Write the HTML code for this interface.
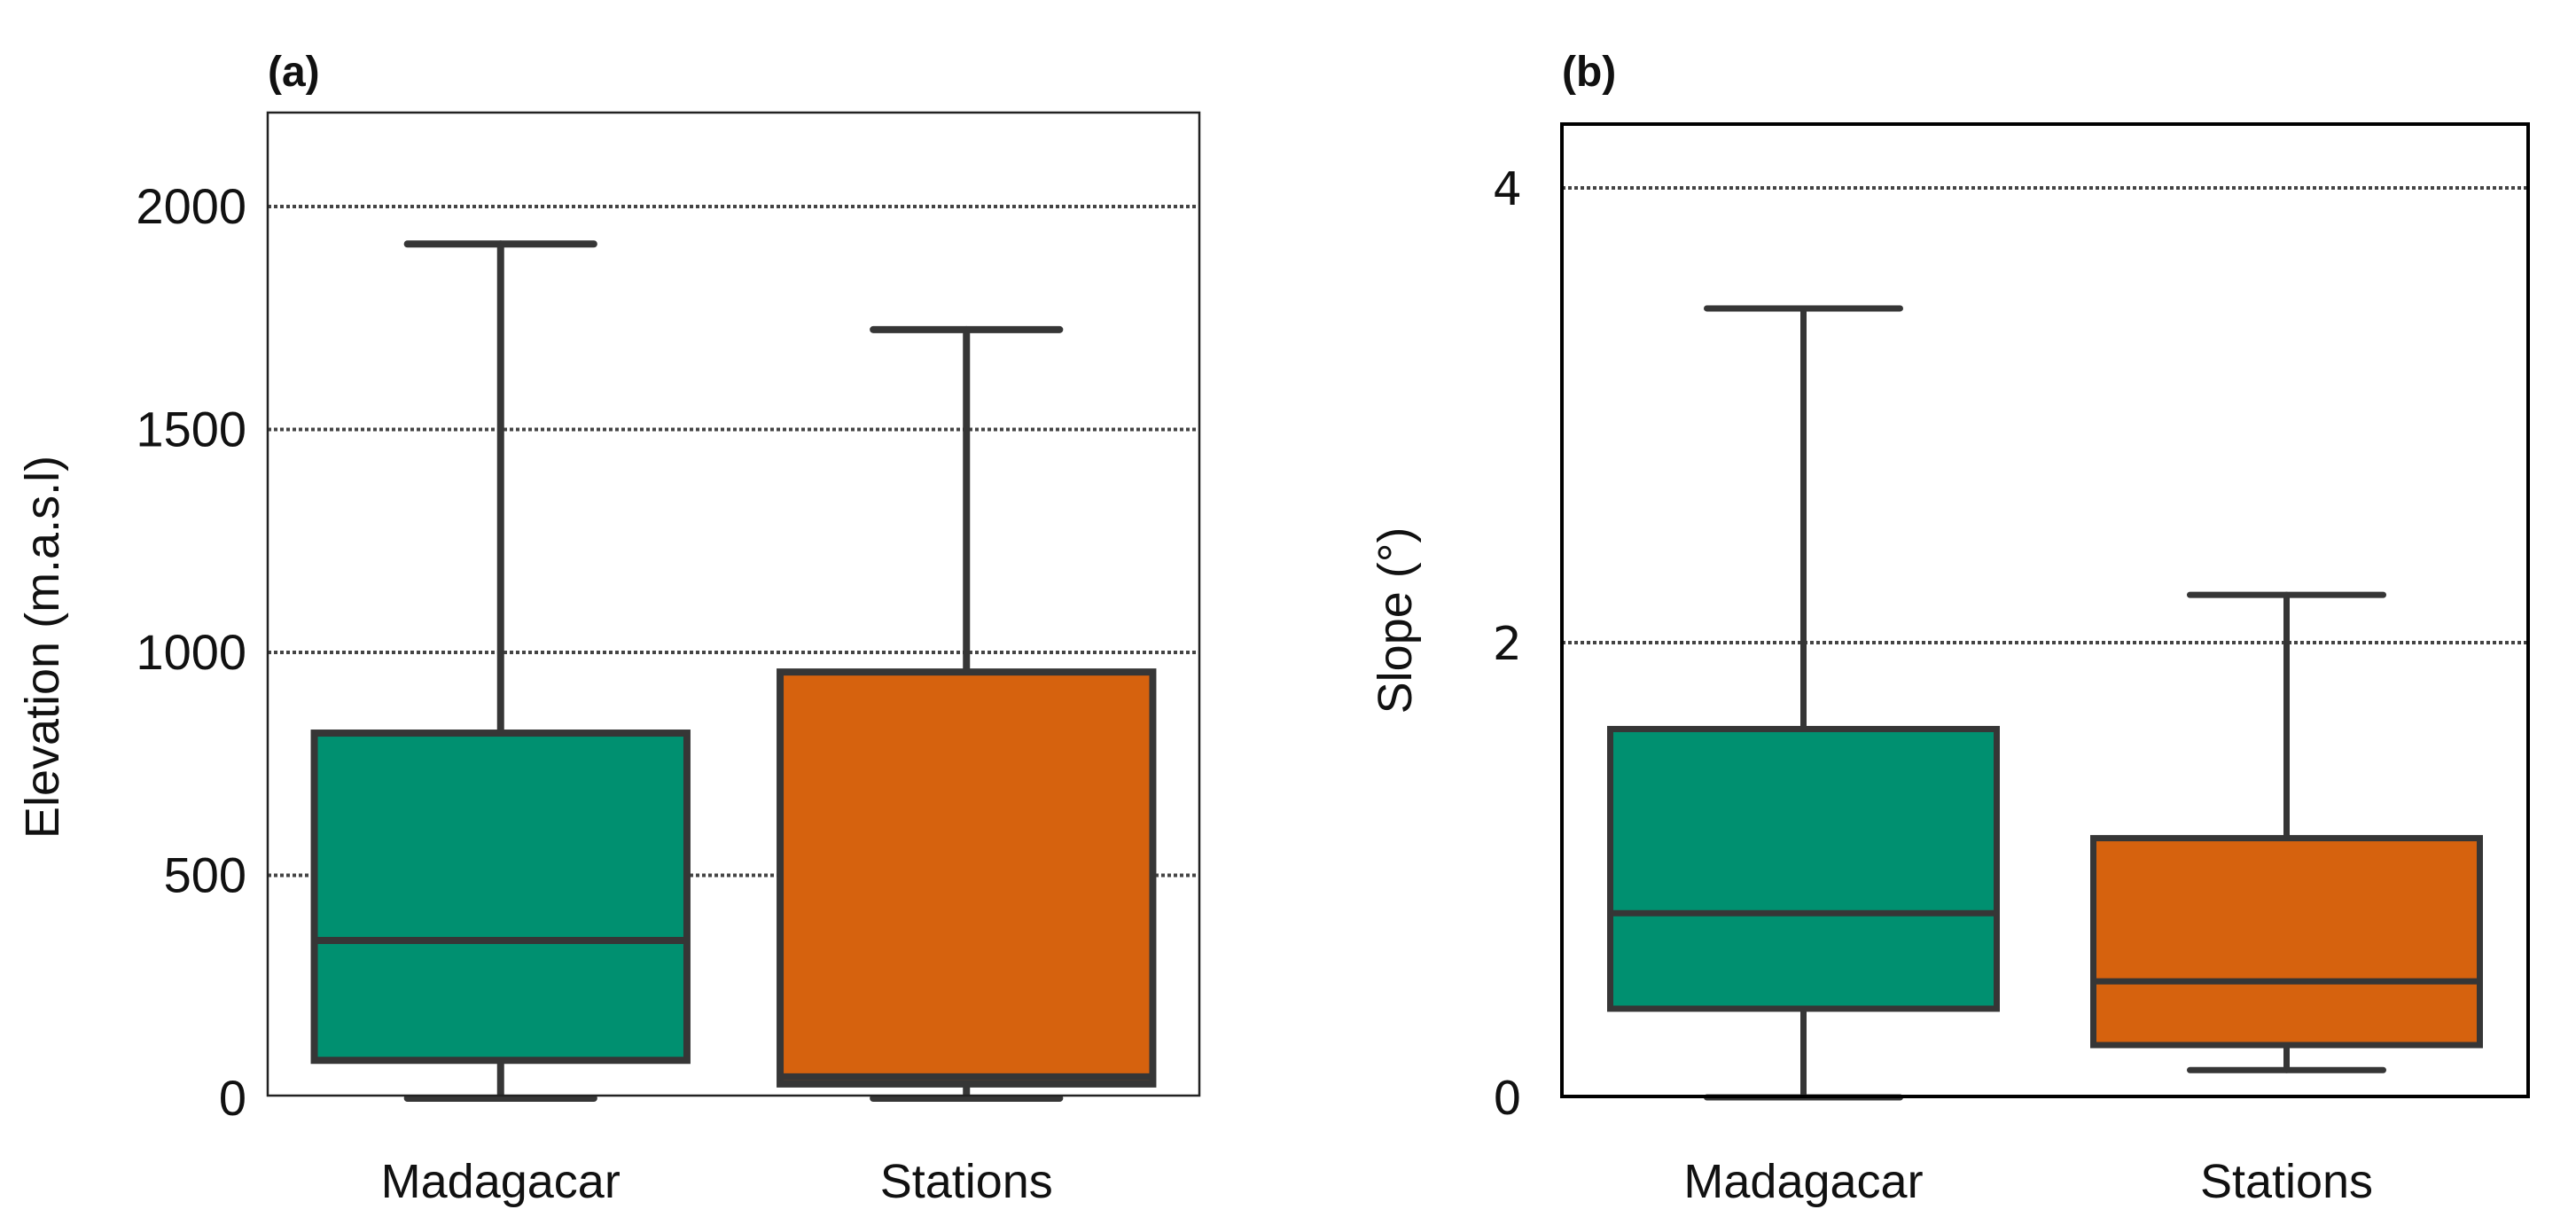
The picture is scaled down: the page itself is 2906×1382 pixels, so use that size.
<!DOCTYPE html>
<html><head><meta charset="utf-8">
<style>
html,body{margin:0;padding:0;background:#fff;}
svg{display:block;font-family:"Liberation Sans",Arial,sans-serif;}
</style></head>
<body>
<svg id="chart" width="2906" height="1382" viewBox="0 0 2906 1382" xmlns="http://www.w3.org/2000/svg">
<rect x="0" y="0" width="2906" height="1382" fill="#fff"/>
</svg>
<script>
const categories = ["Madagacar", "Stations"];
const colors = ["#009070", "#d6620e"];
// Elevation stats: [lower whisker, Q1, median, Q3, upper whisker]
const elevLow = [0, 0];
const elevQ1 = [85, 32];
const elevMed = [354, 48];
const elevQ3 = [819, 956];
const elevHigh = [1916, 1724];
const elevTicks = [0, 500, 1000, 1500, 2000];
// Slope stats
const slopeLow = [0, 0.12];
const slopeQ1 = [0.39, 0.23];
const slopeMed = [0.81, 0.51];
const slopeQ3 = [1.62, 1.14];
const slopeHigh = [3.47, 2.21];
const slopeTicks = [0, 2, 4];

const NS = "http://www.w3.org/2000/svg";
const svg = document.getElementById("chart");
function mk(tag, attrs, parent) {
  const e = document.createElementNS(NS, tag);
  for (const k in attrs) e.setAttribute(k, attrs[k]);
  (parent || svg).appendChild(e);
  return e;
}

function panel(cfg) {
  const g = mk("g", {});
  
  
  const yScale = v => cfg.y0 - (v - cfg.vmin) * cfg.pxPerUnit;
  const band = (cfg.right - cfg.left) / cfg.cats.length;
  const xScale = i => cfg.left + band * (i + 0.5);

  cfg.ticks.forEach(t => {
    if (t === 0) return;
    const l = mk("line", {x1: cfg.left, x2: cfg.right, y1: yScale(t), y2: yScale(t), stroke: "#444", "stroke-width": 4, "stroke-dasharray": "4 3"}, g);
    
    
  });
  cfg.ticks.forEach(t => {
    const tx = mk("text", {x: cfg.tickX, y: yScale(t) + 19, "text-anchor": "end", "font-size": cfg.tickFont, fill: "#111", "font-family": cfg.tickFamily}, g);
    tx.textContent = String(t);
    
    
  });

  const bw = band * 0.8, cw = bw / 2;
  cfg.cats.forEach((c, i) => {
    const cx = xScale(i);
    const bg = mk("g", {}, g);
    
    
    const st = {stroke: "#363636", "stroke-width": cfg.boxStroke, "stroke-linecap": "round"};
    mk("line", Object.assign({x1: cx, x2: cx, y1: yScale(cfg.high[i]), y2: yScale(cfg.q3[i])}, st), bg);
    mk("line", Object.assign({x1: cx, x2: cx, y1: yScale(cfg.q1[i]), y2: yScale(cfg.low[i])}, st), bg);
    mk("line", Object.assign({x1: cx - cw / 2, x2: cx + cw / 2, y1: yScale(cfg.high[i]), y2: yScale(cfg.high[i])}, st), bg);
    mk("line", Object.assign({x1: cx - cw / 2, x2: cx + cw / 2, y1: yScale(cfg.low[i]), y2: yScale(cfg.low[i])}, st), bg);
    mk("rect", {x: cx - bw / 2, y: yScale(cfg.q3[i]), width: bw, height: yScale(cfg.q1[i]) - yScale(cfg.q3[i]), fill: colors[i], stroke: "#363636", "stroke-width": cfg.boxStroke}, bg);
    mk("line", {x1: cx - bw / 2, x2: cx + bw / 2, y1: yScale(cfg.med[i]), y2: yScale(cfg.med[i]), stroke: "#363636", "stroke-width": cfg.boxStroke}, bg);
    const lab = mk("text", {x: cx, y: 1351, "text-anchor": "middle", "font-size": 54, fill: "#111"}, g);
    lab.textContent = c;
    
    
  });

  const fr = mk("rect", {x: cfg.left, y: cfg.top, width: cfg.right - cfg.left, height: cfg.bottom - cfg.top, fill: "none", stroke: cfg.frameColor, "stroke-width": cfg.frameStroke}, g);
  
  

  const yt = mk("text", {x: 0, y: 0, "text-anchor": "middle", "font-size": 54, fill: "#111", transform: "translate(" + cfg.titleX + "," + cfg.titleY + ") rotate(-90)"}, g);
  yt.textContent = cfg.yTitle;
  
  

  const pl = mk("text", {x: cfg.left, y: 97, "font-size": 48, "font-weight": "bold", fill: "#111"}, g);
  pl.textContent = cfg.label;
  
  
}

panel({name: "elevation-panel", left: 302, right: 1353, top: 127, bottom: 1236, y0: 1239, vmin: 0, pxPerUnit: 251.5 / 500,
  ticks: elevTicks, cats: categories, low: elevLow, q1: elevQ1, med: elevMed, q3: elevQ3, high: elevHigh,
  tickX: 278, tickFont: 56, tickFamily: "Liberation Sans, sans-serif", boxStroke: 8, frameStroke: 2.5, frameColor: "#222",
  yTitle: "Elevation (m.a.s.l)", titleX: 66, titleY: 730, label: "(a)"});

panel({name: "slope-panel", left: 1762, right: 2852, top: 140, bottom: 1237, y0: 1238, vmin: 0, pxPerUnit: 256.5,
  ticks: slopeTicks, cats: categories, low: slopeLow, q1: slopeQ1, med: slopeMed, q3: slopeQ3, high: slopeHigh,
  tickX: 1717, tickFont: 52, tickFamily: "DejaVu Sans, sans-serif", boxStroke: 7, frameStroke: 4, frameColor: "#000",
  yTitle: "Slope (°)", titleX: 1592, titleY: 700, label: "(b)"});
</script>
</body></html>
